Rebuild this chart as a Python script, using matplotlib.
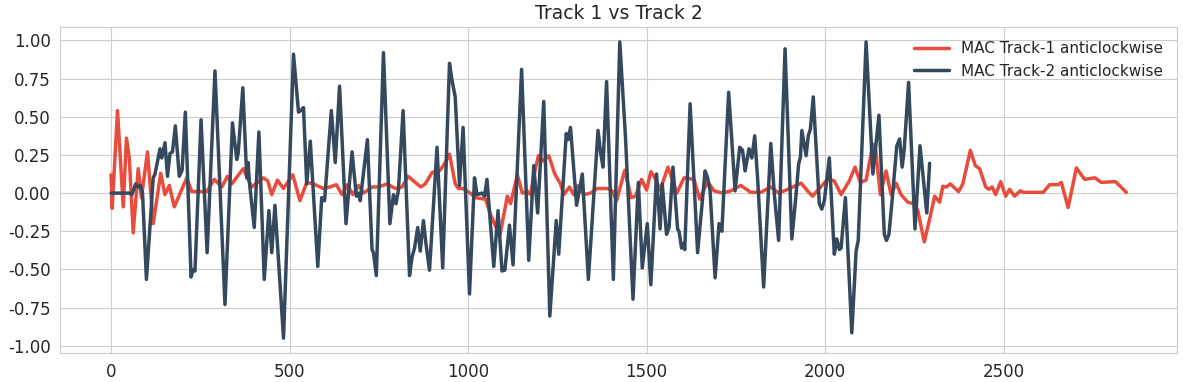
import matplotlib
matplotlib.use("Agg")
import matplotlib.pyplot as plt
import seaborn as sns

# Track 1 (red)
t1_x = [0, 3, 18, 34, 43, 51, 62, 76, 85, 102, 118, 139, 151, 163, 177, 212,
        226, 268, 289, 310, 326, 338, 370, 394, 427, 439, 450, 466, 483, 509,
        529, 548, 567, 595, 612, 631, 647, 662, 677, 693, 707, 731, 749, 773,
        796, 815, 832, 852, 868, 880, 899, 922, 936, 948, 964, 973, 986, 1006,
        1021, 1049, 1063, 1089, 1110, 1119, 1138, 1152, 1167, 1175, 1184, 1197,
        1210, 1226, 1243, 1259, 1268, 1284, 1296, 1306, 1324, 1343, 1362, 1390,
        1404, 1416, 1439, 1457, 1469, 1486, 1500, 1512, 1521, 1538, 1560, 1585,
        1605, 1633, 1649, 1671, 1689, 1713, 1736, 1764, 1792, 1820, 1848, 1870,
        1891, 1933, 1951, 1965, 2007, 2026, 2045, 2068, 2084, 2099, 2115, 2134,
        2141, 2155, 2171, 2185, 2199, 2213, 2232, 2251, 2260, 2278, 2293, 2307,
        2321, 2330, 2340, 2351, 2374, 2386, 2407, 2421, 2433, 2450, 2459, 2468,
        2478, 2492, 2506, 2517, 2531, 2547, 2555, 2611, 2629, 2653, 2662, 2681,
        2704, 2727, 2756, 2774, 2812, 2816, 2844]
t1_y = [0.12, -0.10, 0.54, -0.09, 0.36, 0.23, -0.26, 0.16, -0.03, 0.27, -0.20,
        0.13, -0.01, 0.05, -0.09, 0.10, 0.01, 0.01, 0.09, 0.04, 0.11, 0.06,
        0.16, 0.04, 0.10, 0.08, -0.01, 0.085, 0.03, 0.12, -0.05, 0.07, 0.06,
        0.03, 0.04, 0.055, -0.01, 0.055, -0.01, 0.05, 0.0, 0.04, 0.04, 0.06,
        0.03, 0.04, 0.11, 0.07, 0.04, 0.06, 0.135, 0.15, 0.20, 0.255, 0.06,
        0.03, 0.03, 0.0, -0.03, -0.04, -0.14, -0.28, -0.02, -0.07, 0.12, 0.0,
        0.01, -0.01, 0.11, 0.245, 0.21, 0.245, 0.125, 0.06, -0.01, 0.04, -0.01,
        0.05, -0.01, 0.0, 0.03, 0.03, 0.015, -0.05, 0.15, -0.03, -0.02, 0.09,
        0.02, 0.14, 0.11, 0.02, 0.17, 0.0, 0.10, 0.09, -0.04, 0.075, 0.015,
        0.0, 0.015, 0.05, 0.005, 0.005, 0.04, 0.0, 0.02, 0.065, 0.015, -0.02,
        0.09, 0.08, -0.01, 0.08, 0.17, 0.07, 0.085, 0.32, 0.30, -0.01, 0.145,
        -0.01, 0.065, -0.01, -0.06, -0.07, -0.115, -0.32, -0.17, -0.02, -0.06,
        0.045, 0.04, 0.06, 0.01, 0.06, 0.28, 0.18, 0.16, 0.04, 0.025, 0.04,
        -0.01, 0.075, -0.02, 0.025, -0.02, 0.015, 0.005, 0.005, 0.055, 0.055,
        0.07, -0.095, 0.165, 0.09, 0.10, 0.07, 0.075, 0.07, 0.005]

# Track 2 (dark)
t2_x = [0, 52, 58, 69, 76, 82, 88, 99, 118, 123, 137, 142, 151, 158, 165, 172,
        180, 191, 199, 208, 224, 230, 235, 252, 269, 291, 319, 340, 352, 356,
        369, 380, 384, 387, 401, 414, 429, 442, 450, 459, 483, 511, 525, 531,
        539, 548, 558, 579, 590, 598, 617, 628, 640, 658, 675, 687, 693, 698,
        718, 731, 735, 743, 763, 781, 791, 798, 805, 818, 836, 843, 850, 859,
        866, 875, 882, 892, 913, 929, 948, 955, 964, 976, 986, 1004, 1018,
        1025, 1039, 1046, 1053, 1072, 1084, 1095, 1103, 1116, 1126, 1150, 1170,
        1184, 1195, 1212, 1229, 1247, 1254, 1275, 1280, 1287, 1304, 1320, 1337,
        1364, 1371, 1378, 1388, 1407, 1425, 1441, 1462, 1477, 1488, 1502, 1512,
        1528, 1538, 1544, 1556, 1563, 1574, 1587, 1591, 1598, 1604, 1607, 1622,
        1643, 1664, 1671, 1678, 1692, 1703, 1711, 1730, 1748, 1761, 1769, 1776,
        1787, 1795, 1803, 1811, 1828, 1848, 1858, 1870, 1888, 1907, 1918, 1926,
        1931, 1935, 1947, 1953, 1959, 1967, 1984, 1991, 1998, 2012, 2026, 2033,
        2040, 2045, 2057, 2075, 2087, 2093, 2115, 2134, 2151, 2166, 2172, 2179,
        2187, 2201, 2209, 2216, 2222, 2234, 2252, 2266, 2285, 2293]
t2_y = [0.0, 0.0, -0.01, 0.06, 0.04, 0.05, 0.0, -0.565, 0.10, 0.125, 0.29,
        0.23, 0.33, 0.11, 0.26, 0.27, 0.44, 0.11, 0.15, 0.53, -0.55, -0.50,
        -0.51, 0.48, -0.39, 0.80, -0.73, 0.46, 0.22, 0.26, 0.69, 0.10, 0.20,
        0.08, -0.225, 0.40, -0.565, -0.115, -0.39, -0.08, -0.95, 0.91, 0.53,
        0.54, 0.56, 0.06, 0.34, -0.48, -0.03, -0.05, 0.54, 0.20, 0.70, -0.20,
        0.27, -0.02, 0.0, -0.05, 0.35, -0.37, -0.39, -0.54, 0.92, -0.20, -0.01,
        -0.07, 0.02, 0.54, -0.54, -0.42, -0.36, -0.225, -0.38, -0.18, -0.33,
        -0.505, 0.30, -0.49, 0.85, 0.74, 0.63, 0.05, 0.43, -0.66, 0.10, -0.01,
        0.0, -0.02, 0.09, -0.48, -0.115, -0.51, -0.505, -0.21, -0.47, 0.81,
        -0.44, 0.18, -0.13, 0.60, -0.805, -0.18, -0.40, 0.39, 0.35, 0.43, -0.08,
        0.125, -0.565, 0.41, 0.27, 0.17, 0.73, -0.565, 0.99, 0.365, -0.695,
        0.07, -0.49, -0.20, -0.60, 0.125, -0.235, 0.06, -0.27, -0.225, 0.17,
        -0.235, -0.25, -0.36, -0.33, -0.37, 0.585, -0.39, 0.145, 0.10, 0.015,
        -0.555, -0.20, -0.25, 0.66, 0.015, 0.30, 0.28, 0.145, 0.29, 0.23,
        0.375, 0.10, -0.615, 0.325, -0.01, -0.31, 0.945, -0.30, -0.03, 0.19,
        0.235, 0.41, 0.245, 0.375, 0.42, 0.63, -0.07, -0.105, -0.05, 0.23,
        -0.40, -0.30, -0.37, -0.36, -0.03, -0.915, -0.38, -0.31, 0.99, 0.125,
        0.51, -0.27, -0.31, -0.27, -0.07, 0.31, 0.355, 0.17, 0.29, 0.725,
        -0.235, 0.31, -0.13, 0.195]

sns.set_style("whitegrid")
plt.rcParams['font.family'] = ['DejaVu Sans']

fig, ax = plt.subplots(figsize=(11.83, 3.82), dpi=100)
fig.subplots_adjust(left=0.051, right=0.995, top=0.929, bottom=0.076)

ax.plot(t1_x, t1_y, color='#e74c3c', lw=2.5, label='MAC Track-1 anticlockwise')
ax.plot(t2_x, t2_y, color='#34495e', lw=2.5, label='MAC Track-2 anticlockwise')

ax.set_yticks([-1.0, -0.75, -0.5, -0.25, 0.0, 0.25, 0.5, 0.75, 1.0])
ax.set_yticklabels(['%.2f' % v for v in ax.get_yticks()])
ax.set_xticks([0, 500, 1000, 1500, 2000, 2500])
ax.tick_params(labelsize=12)
ax.set_title('Track 1 vs Track 2', fontsize=13.5)
ax.legend(loc='upper right', fontsize=11, frameon=False, handlelength=2.3)

fig.savefig('out.png', dpi=100)
